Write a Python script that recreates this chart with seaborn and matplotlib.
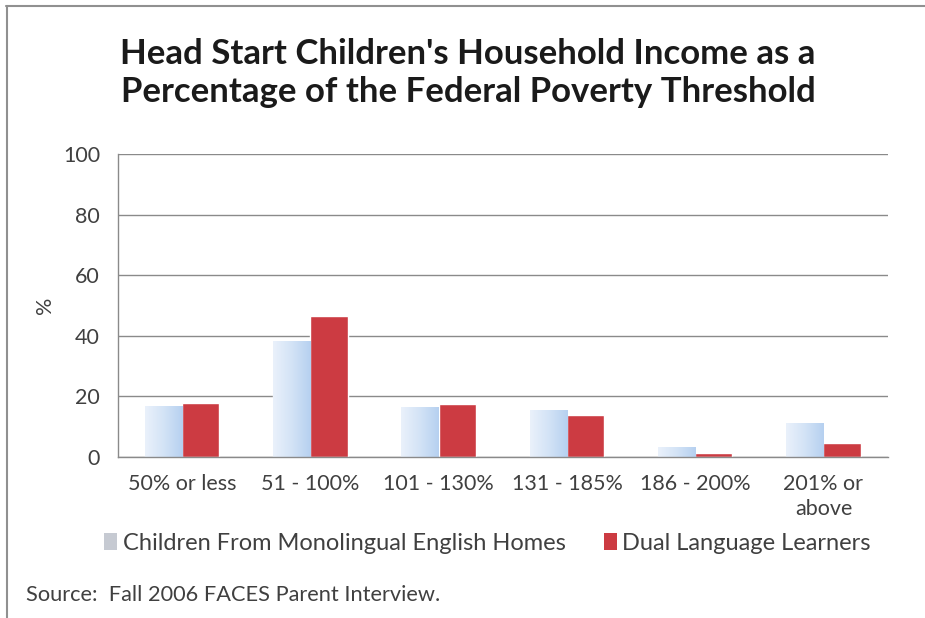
import matplotlib
matplotlib.use("Agg")
import matplotlib.pyplot as plt
import seaborn as sns
import pandas as pd
import numpy as np
from matplotlib.lines import Line2D
from matplotlib.patches import Patch
from matplotlib.colors import LinearSegmentedColormap

categories = ["50% or less", "51 - 100%", "101 - 130%", "131 - 185%", "186 - 200%", "201% or\nabove"]
monolingual = [16.8, 38.2, 16.4, 15.2, 3.0, 11.2]
dual_language = [17.8, 46.7, 17.4, 13.8, 1.3, 4.6]
series_names = ["Children From Monolingual English Homes", "Dual Language Learners"]
y_ticks = [0, 20, 40, 60, 80, 100]

df = pd.DataFrame({
    "category": categories * 2,
    "value": monolingual + dual_language,
    "series": [series_names[0]] * len(categories) + [series_names[1]] * len(categories),
})

sns.set_theme(style="white")
plt.rcParams["font.family"] = ["Lato", "DejaVu Sans"]

colors = {series_names[0]: "#c9dcf2", series_names[1]: "#cc3b42"}
text_color = "#404040"

fig = plt.figure(figsize=(9.25, 6.18), dpi=100)
ax = fig.add_axes([0.1276, 0.2605, 0.832, 0.4903])

sns.barplot(data=df, x="category", y="value", hue="series", palette=colors,
            width=0.58, gap=0, ax=ax, legend=False, saturation=1)

# light blue bars get a soft left-to-right shading
blue_grad = LinearSegmentedColormap.from_list("blue_grad", ["#eaf1fb", "#d3e3f6", "#b6d0f0"])
grad = np.linspace(0, 1, 64).reshape(1, -1)
for patch in ax.patches[:len(categories)]:
    x0, y0 = patch.get_x(), patch.get_y()
    w, h = patch.get_width(), patch.get_height()
    patch.set_facecolor("none")
    ax.imshow(grad, cmap=blue_grad, aspect="auto", extent=(x0, x0 + w, y0, y0 + h),
              zorder=patch.get_zorder(), interpolation="bilinear")

ax.set_ylim(0, 100)
ax.set_xlim(-0.5, len(categories) - 0.5)
ax.set_yticks(y_ticks)
ax.set_yticklabels([str(t) for t in y_ticks], fontsize=15.5, color=text_color)
ax.tick_params(axis="x", labelsize=15.5, labelcolor=text_color, length=0, pad=12)
for lbl in ax.get_xticklabels():
    lbl.set_linespacing(1.35)
ax.tick_params(axis="y", length=0, pad=13)
ax.set_xlabel("")
ax.set_ylabel("%", fontsize=15.5, color=text_color, labelpad=6)

ax.grid(axis="y", color="#8a8a8a", linewidth=1)
ax.set_axisbelow(True)
for side in ["top", "right"]:
    ax.spines[side].set_visible(False)
for side in ["left", "bottom"]:
    ax.spines[side].set_color("#8a8a8a")
    ax.spines[side].set_linewidth(1)

fig.text(0.506, 0.882, "Head Start Children's Household Income as a\nPercentage of the Federal Poverty Threshold",
         ha="center", va="center", fontsize=25, fontweight="bold", color="#1a1a1a",
         linespacing=1.25)

handles = [Patch(facecolor="#c6cad2", edgecolor="none"),
           Patch(facecolor=colors[series_names[1]], edgecolor="none")]
fig.legend(handles, series_names, loc="center", bbox_to_anchor=(0.527, 0.121), ncol=2,
           frameon=False, fontsize=17, handlelength=0.55, handleheight=0.7,
           handletextpad=0.25, columnspacing=1.6, labelcolor=text_color)

fig.text(0.028, 0.037, "Source:  Fall 2006 FACES Parent Interview.", fontsize=15.7,
         color=text_color, ha="left", va="center")

# outer chart frame
fig.add_artist(Line2D([0.006, 1.0], [0.99, 0.99], color="#909090", linewidth=1.5,
                      transform=fig.transFigure))
fig.add_artist(Line2D([0.008, 0.008], [0.0, 0.99], color="#909090", linewidth=1.5,
                      transform=fig.transFigure))

fig.savefig("out.png", dpi=100, facecolor="white")
